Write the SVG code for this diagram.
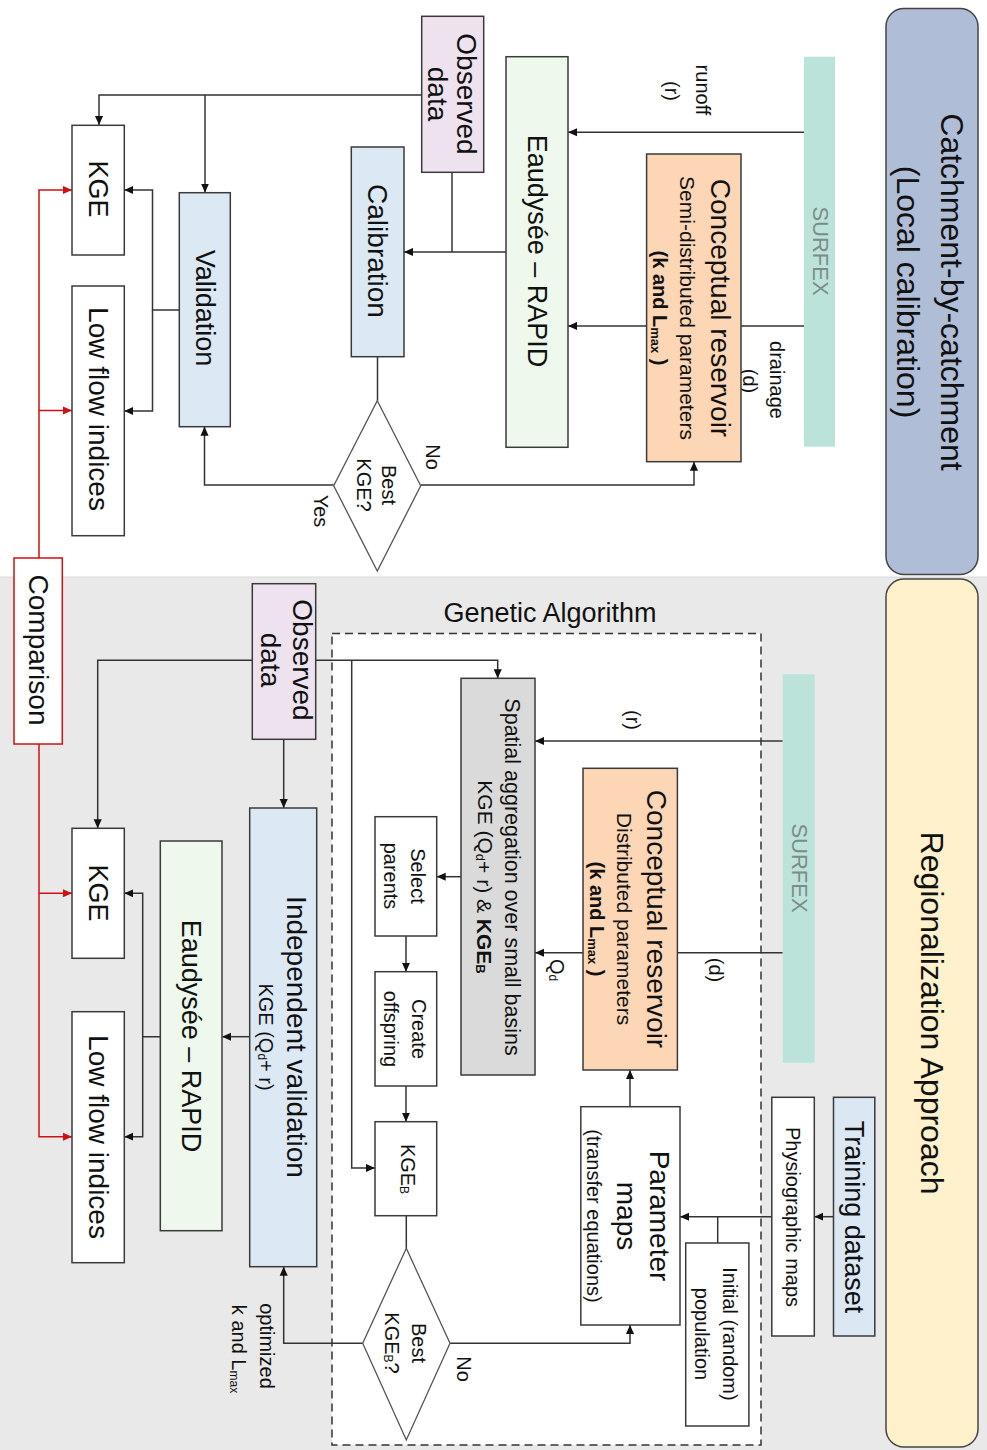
<svg xmlns="http://www.w3.org/2000/svg" width="987" height="1450" viewBox="0 0 987 1450">
<style>
.t{font-family:"Liberation Sans",Arial,sans-serif;fill:#111;text-anchor:middle;dominant-baseline:central}
.box{stroke:#3a3a3a;stroke-width:1.5}
.ln{fill:none;stroke:#333;stroke-width:1.5}
.red{fill:none;stroke:#D01010;stroke-width:1.5}
.dia{fill:#fff;stroke:#555;stroke-width:1.3}
.b{font-weight:bold}
</style>
<defs>
<marker id="ah" viewBox="0 0 10 10" refX="10" refY="5" markerWidth="9" markerHeight="9" markerUnits="userSpaceOnUse" orient="auto"><path d="M0,0.5 L10,5 L0,9.5 z" fill="#111"/></marker>
<marker id="ahr" viewBox="0 0 10 10" refX="10" refY="5" markerWidth="9" markerHeight="9" markerUnits="userSpaceOnUse" orient="auto"><path d="M0,0.5 L10,5 L0,9.5 z" fill="#D01010"/></marker>
</defs>
<rect x="0" y="0" width="987" height="1450" fill="#fff"/>
<rect x="0" y="577" width="987" height="873" fill="#E9E9E9"/>
<line x1="0" y1="577" x2="987" y2="577" stroke="#d8d8d8" stroke-width="1"/>

<g id="panel-catchment">
<rect x="886" y="8.5" width="92" height="566" rx="18" fill="#B0BDD6" stroke="#444" stroke-width="1.5"/>
<text class="t" font-size="32" transform="translate(952,292) rotate(90)">Catchment-by-catchment</text>
<text class="t" font-size="32" transform="translate(908,292) rotate(90)">(Local calibration)</text>
</g>
<g id="panel-regionalization">
<rect x="886" y="579" width="92" height="868" rx="18" fill="#FFF1CB" stroke="#444" stroke-width="1.5"/>
<text class="t" font-size="32" transform="translate(932,1013) rotate(90)">Regionalization Approach</text>
</g>
<g id="ga-container">
<rect x="332" y="633.5" width="429" height="811.5" fill="#fff" stroke="#333" stroke-width="1.5" stroke-dasharray="8,5"/>
<text font-family="Liberation Sans, Arial, sans-serif" font-size="27" fill="#111" text-anchor="middle" x="550" y="622">Genetic Algorithm</text>
</g>

<g id="connectors">
<!-- top section -->
<polyline class="ln" points="421.7,95 99,95 99,125" marker-end="url(#ah)"/>
<polyline class="ln" points="205,95 205,192.5" marker-end="url(#ah)"/>
<polyline class="ln" points="452,172 452,252"/>
<polyline class="ln" points="506,252 404,252" marker-end="url(#ah)"/>
<polyline class="ln" points="804,132.3 568,132.3" marker-end="url(#ah)"/>
<polyline class="ln" points="804,326 568,326" marker-end="url(#ah)"/>
<polyline class="ln" points="377.5,356.7 377.5,400.7"/>
<polyline class="ln" points="333.7,485 204.5,485 204.5,426.7" marker-end="url(#ah)"/>
<polyline class="ln" points="420.7,485 694,485 694,461.7" marker-end="url(#ah)"/>
<polyline class="ln" points="179.3,310 152.5,310 152.5,190 124.3,190" marker-end="url(#ah)"/>
<polyline class="ln" points="152.5,310 152.5,411 124.3,411" marker-end="url(#ah)"/>
<!-- red comparison -->
<polyline class="red" points="39,558 39,190 72,190" marker-end="url(#ahr)"/>
<polyline class="red" points="39,410.5 72,410.5" marker-end="url(#ahr)"/>
<polyline class="red" points="39,744 39,1136.7 72,1136.7" marker-end="url(#ahr)"/>
<polyline class="red" points="39,893.3 72,893.3" marker-end="url(#ahr)"/>
<!-- bottom section -->
<polyline class="ln" points="252.3,660.3 97.7,660.3 97.7,828.3" marker-end="url(#ah)"/>
<polyline class="ln" points="315.7,660.3 497.7,660.3 497.7,678.3" marker-end="url(#ah)"/>
<polyline class="ln" points="351.7,660.3 351.7,1168 375,1168" marker-end="url(#ah)"/>
<polyline class="ln" points="283.7,739.3 283.7,808" marker-end="url(#ah)"/>
<polyline class="ln" points="782.7,741 535,741" marker-end="url(#ah)"/>
<polyline class="ln" points="782.7,952.7 535,952.7" marker-end="url(#ah)"/>
<polyline class="ln" points="461,876.7 436.7,876.7" marker-end="url(#ah)"/>
<polyline class="ln" points="406,936 406,971.7" marker-end="url(#ah)"/>
<polyline class="ln" points="406,1086 406,1121.7" marker-end="url(#ah)"/>
<polyline class="ln" points="406.3,1215.7 406.3,1248.3"/>
<polyline class="ln" points="450,1343.3 630,1343.3 630,1325" marker-end="url(#ah)"/>
<polyline class="ln" points="362.7,1343.3 283.7,1343.3 283.7,1266.7" marker-end="url(#ah)"/>
<polyline class="ln" points="630,1106.7 630,1070" marker-end="url(#ah)"/>
<polyline class="ln" points="833.5,1216.7 814.3,1216.7" marker-end="url(#ah)"/>
<polyline class="ln" points="771.8,1216.7 680,1216.7" marker-end="url(#ah)"/>
<polyline class="ln" points="717.7,1243 717.7,1216.7"/>
<polyline class="ln" points="249.7,1036.7 222,1036.7" marker-end="url(#ah)"/>
<polyline class="ln" points="160.3,1036.7 142.7,1036.7 142.7,893.3 124.3,893.3" marker-end="url(#ah)"/>
<polyline class="ln" points="142.7,1036.7 142.7,1136.7 124.3,1136.7" marker-end="url(#ah)"/>
</g>

<g id="labels">
<text class="t" font-size="20" transform="translate(703,90) rotate(90)">runoff</text>
<text class="t" font-size="20" transform="translate(672,91) rotate(90)">(r)</text>
<text class="t" font-size="20" transform="translate(777,380) rotate(90)">drainage</text>
<text class="t" font-size="20" transform="translate(750,381) rotate(90)">(d)</text>
<text class="t" font-size="20" transform="translate(321,511) rotate(90)">Yes</text>
<text class="t" font-size="20" transform="translate(433,457) rotate(90)">No</text>
<text class="t" font-size="20" transform="translate(633,720) rotate(90)">(r)</text>
<text class="t" font-size="20" transform="translate(716,970) rotate(90)">(d)</text>
<text class="t" font-size="20" transform="translate(557,970) rotate(90)">Q<tspan font-size="12" dy="4">d</tspan></text>
<text class="t" font-size="20" transform="translate(464,1369) rotate(90)">No</text>
<text class="t" font-size="20" transform="translate(267,1346) rotate(90)">optimized</text>
<text class="t" font-size="20" transform="translate(239,1349) rotate(90)">k and L<tspan font-size="12" dy="5">max</tspan></text>
</g>

<g id="observed-top">
<rect class="box" x="421.7" y="16.3" width="62" height="156" fill="#EEE2EE"/>
<text class="t" font-size="28" transform="translate(466,94) rotate(90)">Observed</text>
<text class="t" font-size="28" transform="translate(437,94) rotate(90)">data</text>
</g>
<g id="eaudysee-top">
<rect class="box" x="506" y="56.7" width="62" height="390.6" fill="#EEF8EC"/>
<text class="t" font-size="27" transform="translate(537,251) rotate(90)">Eaudysée – RAPID</text>
</g>
<g id="surfex-top">
<rect x="804" y="56.7" width="31" height="390" fill="#BCE3DA"/>
<text class="t" font-size="22" fill="#7E8C89" style="fill:#7E8C89" transform="translate(820,251) rotate(90)">SURFEX</text>
</g>
<g id="reservoir-top">
<rect class="box" x="646.6" y="154" width="94.4" height="307.7" fill="#FDD6B5"/>
<text class="t" font-size="28" transform="translate(720,308) rotate(90)">Conceptual  reservoir</text>
<text class="t" font-size="21" transform="translate(687,308) rotate(90)">Semi-distributed parameters</text>
<text class="t b" font-size="20" transform="translate(660,308) rotate(90)">(k and L<tspan font-size="13" dy="4">max</tspan><tspan dy="-4"> )</tspan></text>
</g>
<g id="calibration">
<rect class="box" x="351.3" y="147" width="52.7" height="209.7" fill="#DDE8F5"/>
<text class="t" font-size="28" transform="translate(377.5,251) rotate(90)">Calibration</text>
</g>
<g id="validation">
<rect class="box" x="179.3" y="192.7" width="51" height="234" fill="#DDE8F5"/>
<text class="t" font-size="27" transform="translate(205,308) rotate(90)">Validation</text>
</g>
<g id="kge-top">
<rect class="box" x="72" y="125.3" width="52.3" height="129.7" fill="#fff"/>
<text class="t" font-size="27" transform="translate(98,189) rotate(90)">KGE</text>
</g>
<g id="lowflow-top">
<rect class="box" x="72" y="286" width="52.3" height="249.7" fill="#fff"/>
<text class="t" font-size="28" transform="translate(98,409) rotate(90)">Low  flow  indices</text>
</g>
<g id="decision-top">
<polygon class="dia" points="377.3,400.7 420.7,485.8 377.3,571 333.7,485.8"/>
<text class="t" font-size="20" transform="translate(389,485) rotate(90)">Best</text>
<text class="t" font-size="20" transform="translate(364,485) rotate(90)">KGE?</text>
</g>

<g id="comparison">
<rect x="14" y="558" width="48.3" height="186" fill="#fff" stroke="#D01010" stroke-width="1.5"/>
<text class="t" font-size="28" transform="translate(38,650) rotate(90)">Comparison</text>
</g>

<g id="observed-bottom">
<rect class="box" x="252.3" y="583.7" width="63.4" height="155.6" fill="#EEE2EE"/>
<text class="t" font-size="28" transform="translate(302,660) rotate(90)">Observed</text>
<text class="t" font-size="28" transform="translate(270,660) rotate(90)">data</text>
</g>
<g id="independent-validation">
<rect class="box" x="249.7" y="808" width="67" height="458.7" fill="#DDE8F5"/>
<text class="t" font-size="28" transform="translate(296,1037) rotate(90)">Independent  validation</text>
<text class="t" font-size="20" transform="translate(266,1037) rotate(90)">KGE (Q<tspan font-size="12" dy="4">d</tspan><tspan dy="-4">+ r)</tspan></text>
</g>
<g id="eaudysee-bottom">
<rect class="box" x="160.3" y="841" width="61.7" height="389.7" fill="#EEF8EC"/>
<text class="t" font-size="27" transform="translate(191,1036) rotate(90)">Eaudysée – RAPID</text>
</g>
<g id="kge-bottom">
<rect class="box" x="72" y="828.3" width="52.3" height="130" fill="#fff"/>
<text class="t" font-size="27" transform="translate(98,893) rotate(90)">KGE</text>
</g>
<g id="lowflow-bottom">
<rect class="box" x="72" y="1011.7" width="52.3" height="251" fill="#fff"/>
<text class="t" font-size="28" transform="translate(98,1137) rotate(90)">Low  flow  indices</text>
</g>
<g id="spatial-aggregation">
<rect class="box" x="461" y="678.3" width="74" height="396.7" fill="#DADADA"/>
<text class="t" font-size="21.5" transform="translate(512,877) rotate(90)">Spatial aggregation over small basins</text>
<text class="t" font-size="21" transform="translate(485,877) rotate(90)">KGE (Q<tspan font-size="13" dy="4">d</tspan><tspan dy="-4">+ r) &amp; </tspan><tspan class="b" font-weight="bold">KGE</tspan><tspan class="b" font-weight="bold" font-size="13" dy="4">B</tspan></text>
</g>
<g id="surfex-bottom">
<rect x="782.7" y="674.3" width="32" height="388.4" fill="#BCE3DA"/>
<text class="t" font-size="22" style="fill:#7E8C89" transform="translate(799,868) rotate(90)">SURFEX</text>
</g>
<g id="reservoir-bottom">
<rect class="box" x="583" y="768.3" width="94.4" height="301.7" fill="#FDD6B5"/>
<text class="t" font-size="28" transform="translate(656,919) rotate(90)">Conceptual  reservoir</text>
<text class="t" font-size="21" transform="translate(624,919) rotate(90)">Distributed parameters</text>
<text class="t b" font-size="20" transform="translate(597,919) rotate(90)">(k and L<tspan font-size="13" dy="4">max</tspan><tspan dy="-4"> )</tspan></text>
</g>
<g id="select-parents">
<rect class="box" x="375" y="816.7" width="61.7" height="119.3" fill="#fff"/>
<text class="t" font-size="20" transform="translate(418,876) rotate(90)">Select</text>
<text class="t" font-size="20" transform="translate(391,876) rotate(90)">parents</text>
</g>
<g id="create-offspring">
<rect class="box" x="375" y="971.7" width="61.7" height="114.3" fill="#fff"/>
<text class="t" font-size="20" transform="translate(419,1029) rotate(90)">Create</text>
<text class="t" font-size="20" transform="translate(391,1029) rotate(90)">offspring</text>
</g>
<g id="kgeb">
<rect class="box" x="375" y="1121.7" width="61.7" height="94" fill="#fff"/>
<text class="t" font-size="20" transform="translate(408,1169) rotate(90)">KGE<tspan font-size="12" dy="4">B</tspan></text>
</g>
<g id="decision-bottom">
<polygon class="dia" points="406.3,1248.3 450,1343.3 406.3,1440 362.7,1343.3"/>
<text class="t" font-size="20" transform="translate(419,1343) rotate(90)">Best</text>
<text class="t" font-size="20" transform="translate(392,1343) rotate(90)">KGE<tspan font-size="12" dy="4">B</tspan><tspan dy="-4">?</tspan></text>
</g>
<g id="parameter-maps">
<rect class="box" x="580.8" y="1106.7" width="99.2" height="218.3" fill="#fff"/>
<text class="t" font-size="28" transform="translate(659,1216) rotate(90)">Parameter</text>
<text class="t" font-size="28" transform="translate(626,1216) rotate(90)">maps</text>
<text class="t" font-size="20" transform="translate(594,1216) rotate(90)">(transfer  equations)</text>
</g>
<g id="initial-population">
<rect class="box" x="685.7" y="1243" width="63.2" height="183" fill="#fff"/>
<text class="t" font-size="20" transform="translate(730,1334) rotate(90)">Initial  (random)</text>
<text class="t" font-size="20" transform="translate(702,1334) rotate(90)">population</text>
</g>
<g id="physiographic-maps">
<rect class="box" x="771.8" y="1097.3" width="42.5" height="238.7" fill="#fff"/>
<text class="t" font-size="20" transform="translate(793,1217) rotate(90)">Physiographic maps</text>
</g>
<g id="training-dataset">
<rect class="box" x="833.5" y="1097.3" width="41.3" height="238.7" fill="#DCE7F4"/>
<text class="t" font-size="27" transform="translate(854,1217) rotate(90)">Training  dataset</text>
</g>
</svg>
